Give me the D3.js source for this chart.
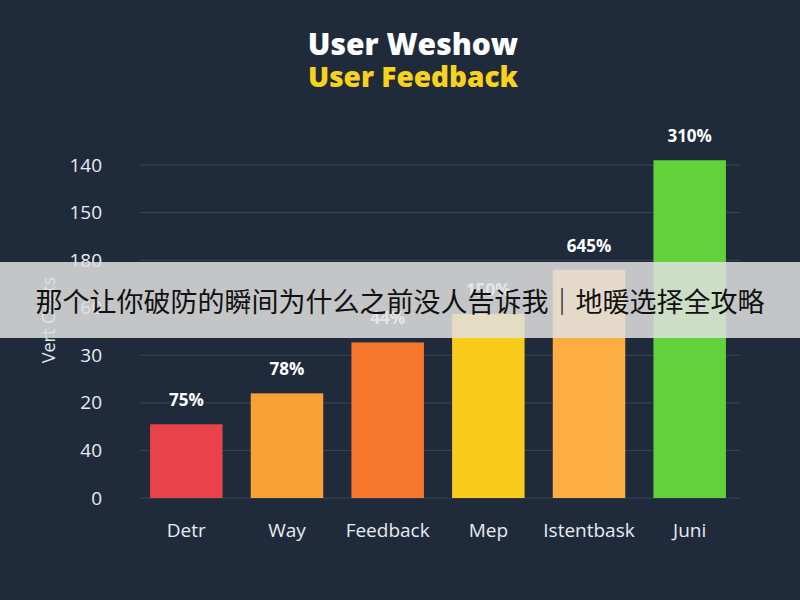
<!DOCTYPE html>
<html><head><meta charset="utf-8">
<script src="https://cdn.jsdelivr.net/npm/d3@7"></script>
<style>body{margin:0;background:#1f2b3b}</style></head>
<body><svg id="c" width="800" height="600"></svg>
<script>
const categories=["Detr","Way","Feedback","Mep","Istentbask","Juni"];
const values=[1.55,2.2,3.27,3.87,4.8,7.1];
const valueLabels=["75%","78%","44%","150%","645%","310%"];
const colors=["#e8434b","#f7a233","#f7782c","#fbcb1c","#fcae42","#62d23b"];
const tickLabels=["0","40","20","30","60","180","150","140"];
const svg=d3.select("#c");
svg.append("rect").attr("width",800).attr("height",600).attr("fill","#1f2b3b");
const y=d3.scaleLinear().domain([0,7]).range([498,165]);
const x=d3.scaleBand().domain(categories).range([138,738]).paddingInner(0.28).paddingOuter(0.12);
svg.append("g").selectAll("line").data(d3.range(8)).join("line")
 .attr("x1",140).attr("x2",740).attr("y1",d=>y(d)).attr("y2",d=>y(d))
 .attr("stroke","#3a4658").attr("stroke-width",1);
const ax=svg.append("g")
 .call(d3.axisLeft(y).tickValues(d3.range(8)).tickFormat(i=>tickLabels[i]).tickSize(0));
ax.select(".domain").remove();
ax.selectAll("text").attr("x",102).attr("fill","#e8ecf2").attr("font-size",19).attr("font-family","Open Sans, sans-serif");
svg.append("text").attr("transform","translate(55,320) rotate(-90)").attr("text-anchor","middle")
 .attr("fill","#dfe4ea").attr("font-size",18).attr("font-family","Open Sans, sans-serif").text("Vert Coats");
svg.append("g").selectAll("rect").data(values).join("rect")
 .attr("x",(d,i)=>x(categories[i])).attr("width",x.bandwidth())
 .attr("y",d=>y(d)).attr("height",d=>y(0)-y(d)).attr("fill",(d,i)=>colors[i]);
svg.append("g").selectAll("text").data(values).join("text")
 .attr("x",(d,i)=>x(categories[i])+x.bandwidth()/2).attr("y",d=>y(d)-18)
 .attr("text-anchor","middle").attr("fill","#fff").attr("font-weight","bold").attr("font-size",17)
 .attr("font-family","Open Sans, sans-serif").text((d,i)=>valueLabels[i]);
svg.append("g").selectAll("text").data(categories).join("text")
 .attr("x",d=>x(d)+x.bandwidth()/2).attr("y",537).attr("text-anchor","middle")
 .attr("fill","#e8ecf2").attr("font-size",19).attr("font-family","Open Sans, sans-serif").text(d=>d);
svg.append("text").attr("x",413).attr("y",55).attr("text-anchor","middle").attr("fill","#fff")
 .attr("font-weight","900").attr("font-size",30).attr("font-family","Open Sans, sans-serif").text("User Weshow");
svg.append("text").attr("x",413).attr("y",87).attr("text-anchor","middle").attr("fill","#f9d21d")
 .attr("font-weight","900").attr("font-size",28).attr("font-family","Open Sans, sans-serif").text("User Feedback");
svg.append("rect").attr("x",0).attr("y",262).attr("width",800).attr("height",76).attr("fill","rgba(225,225,225,0.85)");
svg.append("text").attr("x",400).attr("y",312).attr("text-anchor","middle").attr("fill","#111")
 .attr("font-size",27).attr("font-family","Noto Sans CJK SC").text("那个让你破防的瞬间为什么之前没人告诉我｜地暖选择全攻略");
</script></body></html>
